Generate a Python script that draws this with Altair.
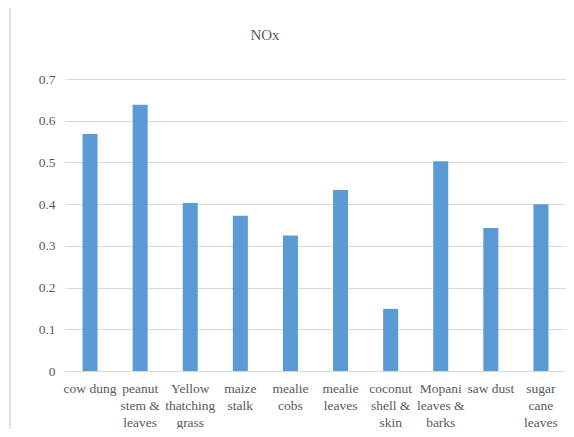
import altair as alt
import pandas as pd

categories = ["cow dung", "peanut\nstem &\nleaves", "Yellow\nthatching\ngrass", "maize\nstalk",
              "mealie\ncobs", "mealie\nleaves", "coconut\nshell &\nskin", "Mopani\nleaves &\nbarks",
              "saw dust", "sugar\ncane\nleaves"]
values = [0.568, 0.638, 0.403, 0.372, 0.325, 0.434, 0.149, 0.503, 0.343, 0.400]
y_ticks = [0, 0.1, 0.2, 0.3, 0.4, 0.5, 0.6, 0.7]
title_text = "NOx"

df = pd.DataFrame({"cat": categories, "val": values})

W, H = 501, 292
FONT = "'Liberation Serif', 'Times New Roman', serif"
GRAY = "#595959"

bars = alt.Chart(df).mark_bar(color="#5B9BD5").encode(
    x=alt.X("cat:N", sort=None, title=None,
            scale=alt.Scale(paddingInner=0.7, paddingOuter=0.35),
            axis=alt.Axis(labelAngle=0, ticks=False, domainColor="#d9d9d9",
                          labelFont=FONT, labelFontSize=13.5, labelColor=GRAY,
                          labelPadding=10, labelLineHeight=17,
                          labelExpr="split(datum.label, '\\n')", labelBaseline="top")),
    y=alt.Y("val:Q", title=None,
            scale=alt.Scale(domain=[0, 0.7], nice=False),
            axis=alt.Axis(values=y_ticks, format="~g", domain=False, ticks=False,
                          gridColor="#d9d9d9", labelFont=FONT, labelFontSize=13.5,
                          labelColor=GRAY, labelPadding=10)),
)

frame = alt.Chart(alt.Data(values=[{}])).mark_rect(
    fill=None, stroke="#d9d9d9", strokeWidth=1.5
).encode(
    x=alt.value(-55), x2=alt.value(W + 40), y=alt.value(-73), y2=alt.value(H + 64)
)

title = alt.Chart(alt.Data(values=[{"t": title_text}])).mark_text(
    font=FONT, fontSize=15, color=GRAY, align="center", baseline="middle"
).encode(text="t:N", x=alt.value(200), y=alt.value(-44))

chart = alt.layer(frame, bars, title).properties(
    width=W, height=H,
    autosize=alt.AutoSizeParams(type="none"),
    padding={"left": 57, "top": 71, "right": 0, "bottom": 58},
).configure_view(stroke=None)

chart.save("out.html", embed_options={"renderer": "svg", "actions": False})
